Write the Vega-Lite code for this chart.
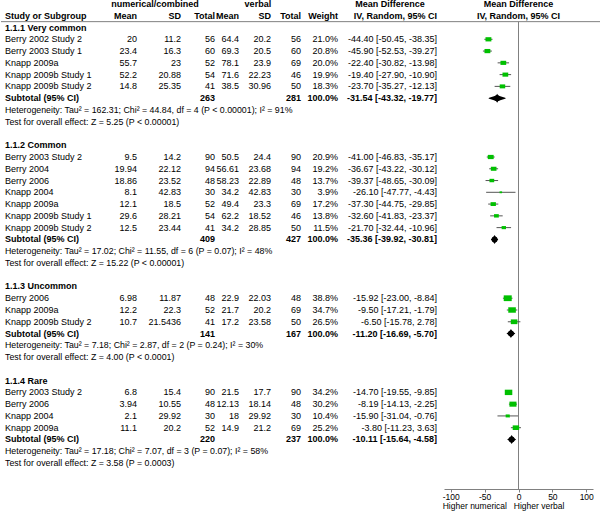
{
  "$schema": "https://vega.github.io/schema/vega-lite/v6.json",
  "padding": 0,
  "spacing": 0,
  "bounds": "flush",
  "background": "white",
  "resolve": {"scale": {"size": "independent"}},
  "datasets": {
    "header": [
      {"row": 0, "col": "num", "text": "numerical/combined"},
      {"row": 0, "col": "verb", "text": "verbal"},
      {"row": 0, "col": "md1", "text": "Mean Difference"},
      {"row": 0, "col": "md2", "text": "Mean Difference"},
      {"row": 1, "col": "label", "text": "Study or Subgroup"},
      {"row": 1, "col": "m1", "text": "Mean"},
      {"row": 1, "col": "sd1", "text": "SD"},
      {"row": 1, "col": "n1", "text": "Total"},
      {"row": 1, "col": "m2", "text": "Mean"},
      {"row": 1, "col": "sd2", "text": "SD"},
      {"row": 1, "col": "n2", "text": "Total"},
      {"row": 1, "col": "weight", "text": "Weight"},
      {"row": 1, "col": "ci", "text": "IV, Random, 95% CI"},
      {"row": 1, "col": "ci2", "text": "IV, Random, 95% CI"}
    ],
    "rows": [
      {"row": 2, "kind": "group", "label": "1.1.1 Very common"},
      {"row": 3, "kind": "study", "label": "Berry 2002 Study 2", "m1": 20, "sd1": 11.2, "n1": 56, "m2": 64.4, "sd2": 20.2, "n2": 56, "weight": 0.21, "ci": "-44.40 [-50.45, -38.35]", "md": -44.4, "lo": -50.45, "hi": -38.35},
      {"row": 4, "kind": "study", "label": "Berry 2003 Study 1", "m1": 23.4, "sd1": 16.3, "n1": 60, "m2": 69.3, "sd2": 20.5, "n2": 60, "weight": 0.208, "ci": "-45.90 [-52.53, -39.27]", "md": -45.9, "lo": -52.53, "hi": -39.27},
      {"row": 5, "kind": "study", "label": "Knapp 2009a", "m1": 55.7, "sd1": 23, "n1": 52, "m2": 78.1, "sd2": 23.9, "n2": 69, "weight": 0.2, "ci": "-22.40 [-30.82, -13.98]", "md": -22.4, "lo": -30.82, "hi": -13.98},
      {"row": 6, "kind": "study", "label": "Knapp 2009b Study 1", "m1": 52.2, "sd1": 20.88, "n1": 54, "m2": 71.6, "sd2": 22.23, "n2": 46, "weight": 0.199, "ci": "-19.40 [-27.90, -10.90]", "md": -19.4, "lo": -27.9, "hi": -10.9},
      {"row": 7, "kind": "study", "label": "Knapp 2009b Study 2", "m1": 14.8, "sd1": 25.35, "n1": 41, "m2": 38.5, "sd2": 30.96, "n2": 50, "weight": 0.183, "ci": "-23.70 [-35.27, -12.13]", "md": -23.7, "lo": -35.27, "hi": -12.13},
      {"row": 8, "kind": "subtotal", "label": "Subtotal (95% CI)", "n1": 263, "n2": 281, "weight": 1, "ci": "-31.54 [-43.32, -19.77]", "md": -31.54, "lo": -43.32, "hi": -19.77},
      {"row": 9, "kind": "het", "label": "Heterogeneity: Tau² = 162.31; Chi² = 44.84, df = 4 (P < 0.00001); I² = 91%"},
      {"row": 10, "kind": "test", "label": "Test for overall effect: Z = 5.25 (P < 0.00001)"},
      {"row": 12, "kind": "group", "label": "1.1.2 Common"},
      {"row": 13, "kind": "study", "label": "Berry 2003 Study 2", "m1": 9.5, "sd1": 14.2, "n1": 90, "m2": 50.5, "sd2": 24.4, "n2": 90, "weight": 0.209, "ci": "-41.00 [-46.83, -35.17]", "md": -41, "lo": -46.83, "hi": -35.17},
      {"row": 14, "kind": "study", "label": "Berry 2004", "m1": 19.94, "sd1": 22.12, "n1": 94, "m2": 56.61, "sd2": 23.68, "n2": 94, "weight": 0.192, "ci": "-36.67 [-43.22, -30.12]", "md": -36.67, "lo": -43.22, "hi": -30.12},
      {"row": 15, "kind": "study", "label": "Berry 2006", "m1": 18.86, "sd1": 23.52, "n1": 48, "m2": 58.23, "sd2": 22.89, "n2": 48, "weight": 0.137, "ci": "-39.37 [-48.65, -30.09]", "md": -39.37, "lo": -48.65, "hi": -30.09},
      {"row": 16, "kind": "study", "label": "Knapp 2004", "m1": 8.1, "sd1": 42.83, "n1": 30, "m2": 34.2, "sd2": 42.83, "n2": 30, "weight": 0.039, "ci": "-26.10 [-47.77, -4.43]", "md": -26.1, "lo": -47.77, "hi": -4.43},
      {"row": 17, "kind": "study", "label": "Knapp 2009a", "m1": 12.1, "sd1": 18.5, "n1": 52, "m2": 49.4, "sd2": 23.3, "n2": 69, "weight": 0.172, "ci": "-37.30 [-44.75, -29.85]", "md": -37.3, "lo": -44.75, "hi": -29.85},
      {"row": 18, "kind": "study", "label": "Knapp 2009b Study 1", "m1": 29.6, "sd1": 28.21, "n1": 54, "m2": 62.2, "sd2": 18.52, "n2": 46, "weight": 0.138, "ci": "-32.60 [-41.83, -23.37]", "md": -32.6, "lo": -41.83, "hi": -23.37},
      {"row": 19, "kind": "study", "label": "Knapp 2009b Study 2", "m1": 12.5, "sd1": 23.44, "n1": 41, "m2": 34.2, "sd2": 28.85, "n2": 50, "weight": 0.115, "ci": "-21.70 [-32.44, -10.96]", "md": -21.7, "lo": -32.44, "hi": -10.96},
      {"row": 20, "kind": "subtotal", "label": "Subtotal (95% CI)", "n1": 409, "n2": 427, "weight": 1, "ci": "-35.36 [-39.92, -30.81]", "md": -35.36, "lo": -39.92, "hi": -30.81},
      {"row": 21, "kind": "het", "label": "Heterogeneity: Tau² = 17.02; Chi² = 11.55, df = 6 (P = 0.07); I² = 48%"},
      {"row": 22, "kind": "test", "label": "Test for overall effect: Z = 15.22 (P < 0.00001)"},
      {"row": 24, "kind": "group", "label": "1.1.3 Uncommon"},
      {"row": 25, "kind": "study", "label": "Berry 2006", "m1": 6.98, "sd1": 11.87, "n1": 48, "m2": 22.9, "sd2": 22.03, "n2": 48, "weight": 0.388, "ci": "-15.92 [-23.00, -8.84]", "md": -15.92, "lo": -23, "hi": -8.84},
      {"row": 26, "kind": "study", "label": "Knapp 2009a", "m1": 12.2, "sd1": 22.3, "n1": 52, "m2": 21.7, "sd2": 20.2, "n2": 69, "weight": 0.347, "ci": "-9.50 [-17.21, -1.79]", "md": -9.5, "lo": -17.21, "hi": -1.79},
      {"row": 27, "kind": "study", "label": "Knapp 2009b Study 2", "m1": 10.7, "sd1": 21.5436, "n1": 41, "m2": 17.2, "sd2": 23.58, "n2": 50, "weight": 0.265, "ci": "-6.50 [-15.78, 2.78]", "md": -6.5, "lo": -15.78, "hi": 2.78},
      {"row": 28, "kind": "subtotal", "label": "Subtotal (95% CI)", "n1": 141, "n2": 167, "weight": 1, "ci": "-11.20 [-16.69, -5.70]", "md": -11.2, "lo": -16.69, "hi": -5.7},
      {"row": 29, "kind": "het", "label": "Heterogeneity: Tau² = 7.18; Chi² = 2.87, df = 2 (P = 0.24); I² = 30%"},
      {"row": 30, "kind": "test", "label": "Test for overall effect: Z = 4.00 (P < 0.0001)"},
      {"row": 32, "kind": "group", "label": "1.1.4 Rare"},
      {"row": 33, "kind": "study", "label": "Berry 2003 Study 2", "m1": 6.8, "sd1": 15.4, "n1": 90, "m2": 21.5, "sd2": 17.7, "n2": 90, "weight": 0.342, "ci": "-14.70 [-19.55, -9.85]", "md": -14.7, "lo": -19.55, "hi": -9.85},
      {"row": 34, "kind": "study", "label": "Berry 2006", "m1": 3.94, "sd1": 10.55, "n1": 48, "m2": 12.13, "sd2": 18.14, "n2": 48, "weight": 0.302, "ci": "-8.19 [-14.13, -2.25]", "md": -8.19, "lo": -14.13, "hi": -2.25},
      {"row": 35, "kind": "study", "label": "Knapp 2004", "m1": 2.1, "sd1": 29.92, "n1": 30, "m2": 18, "sd2": 29.92, "n2": 30, "weight": 0.104, "ci": "-15.90 [-31.04, -0.76]", "md": -15.9, "lo": -31.04, "hi": -0.76},
      {"row": 36, "kind": "study", "label": "Knapp 2009a", "m1": 11.1, "sd1": 20.2, "n1": 52, "m2": 14.9, "sd2": 21.2, "n2": 69, "weight": 0.252, "ci": "-3.80 [-11.23, 3.63]", "md": -3.8, "lo": -11.23, "hi": 3.63},
      {"row": 37, "kind": "subtotal", "label": "Subtotal (95% CI)", "n1": 220, "n2": 237, "weight": 1, "ci": "-10.11 [-15.64, -4.58]", "md": -10.11, "lo": -15.64, "hi": -4.58},
      {"row": 38, "kind": "het", "label": "Heterogeneity: Tau² = 17.18; Chi² = 7.07, df = 3 (P = 0.07); I² = 58%"},
      {"row": 39, "kind": "test", "label": "Test for overall effect: Z = 3.58 (P = 0.0003)"}
    ]
  },
  "hconcat": [
    {
      "width": 100, "height": 489,
      "layer": [
        {"data": {"name": "rows"}, "transform": [{"filter": "datum.kind == 'study'"}],
         "mark": {"type": "text", "align": "left", "baseline": "middle", "dx": 4},
         "encoding": {"x": {"datum": 0, "type": "quantitative", "scale": {"domain": [0, 1]}, "axis": null},
                      "y": {"field": "row", "type": "quantitative", "scale": {"domain": [0, 39], "range": [4, 463]}, "axis": null},
                      "text": {"field": "label", "type": "nominal"}}},
        {"data": {"name": "rows"}, "transform": [{"filter": "datum.kind == 'het' || datum.kind == 'test'"}],
         "mark": {"type": "text", "align": "left", "baseline": "middle", "dx": 4, "fontSize": 8.8},
         "encoding": {"x": {"datum": 0, "type": "quantitative", "scale": {"domain": [0, 1]}, "axis": null},
                      "y": {"field": "row", "type": "quantitative", "scale": {"domain": [0, 39], "range": [4, 463]}, "axis": null},
                      "text": {"field": "label", "type": "nominal"}}},
        {"data": {"name": "rows"}, "transform": [{"filter": "datum.kind == 'group' || datum.kind == 'subtotal'"}],
         "mark": {"type": "text", "align": "left", "baseline": "middle", "dx": 4, "fontWeight": "bold"},
         "encoding": {"x": {"datum": 0, "type": "quantitative", "scale": {"domain": [0, 1]}, "axis": null},
                      "y": {"field": "row", "type": "quantitative", "scale": {"domain": [0, 39], "range": [4, 463]}, "axis": null},
                      "text": {"field": "label", "type": "nominal"}}},
        {"data": {"name": "header"}, "transform": [{"filter": "datum.col == 'label'"}],
         "mark": {"type": "text", "align": "left", "baseline": "middle", "dx": 4, "fontWeight": "bold"},
         "encoding": {"x": {"datum": 0, "type": "quantitative", "scale": {"domain": [0, 1]}, "axis": null},
                      "y": {"field": "row", "type": "quantitative", "scale": {"domain": [0, 39], "range": [4, 463]}, "axis": null},
                      "text": {"field": "text", "type": "nominal"}}},
        {"data": {"values": [{}]}, "mark": {"type": "rule", "color": "#808080"},
         "encoding": {"x": {"datum": 0, "type": "quantitative", "scale": {"domain": [0, 1]}, "axis": null}, "x2": {"datum": 1},
                      "y": {"datum": 1.5, "type": "quantitative", "scale": {"domain": [0, 39], "range": [4, 463]}, "axis": null}}}
      ]
    },
    {
      "width": 36, "height": 489,
      "layer": [
        {"data": {"name": "rows"}, "transform": [{"filter": "datum.kind == 'study'"}],
         "mark": {"type": "text", "align": "right", "baseline": "middle"},
         "encoding": {"x": {"datum": 1, "type": "quantitative", "scale": {"domain": [0, 1]}, "axis": null},
                      "y": {"field": "row", "type": "quantitative", "scale": {"domain": [0, 39], "range": [4, 463]}, "axis": null},
                      "text": {"field": "m1", "type": "nominal"}}},
        {"data": {"name": "header"}, "transform": [{"filter": "datum.col == 'm1'"}],
         "mark": {"type": "text", "align": "right", "baseline": "middle", "fontWeight": "bold"},
         "encoding": {"x": {"datum": 1, "type": "quantitative", "scale": {"domain": [0, 1]}, "axis": null},
                      "y": {"field": "row", "type": "quantitative", "scale": {"domain": [0, 39], "range": [4, 463]}, "axis": null},
                      "text": {"field": "text", "type": "nominal"}}},
        {"data": {"values": [{}]}, "mark": {"type": "rule", "color": "#808080"},
         "encoding": {"x": {"datum": 0, "type": "quantitative", "scale": {"domain": [0, 1]}, "axis": null}, "x2": {"datum": 1},
                      "y": {"datum": 1.5, "type": "quantitative", "scale": {"domain": [0, 39], "range": [4, 463]}, "axis": null}}}
      ]
    },
    {
      "width": 44, "height": 489,
      "layer": [
        {"data": {"name": "rows"}, "transform": [{"filter": "datum.kind == 'study'"}],
         "mark": {"type": "text", "align": "right", "baseline": "middle"},
         "encoding": {"x": {"datum": 1, "type": "quantitative", "scale": {"domain": [0, 1]}, "axis": null},
                      "y": {"field": "row", "type": "quantitative", "scale": {"domain": [0, 39], "range": [4, 463]}, "axis": null},
                      "text": {"field": "sd1", "type": "nominal"}}},
        {"data": {"name": "header"}, "transform": [{"filter": "datum.col == 'sd1'"}],
         "mark": {"type": "text", "align": "right", "baseline": "middle", "fontWeight": "bold"},
         "encoding": {"x": {"datum": 1, "type": "quantitative", "scale": {"domain": [0, 1]}, "axis": null},
                      "y": {"field": "row", "type": "quantitative", "scale": {"domain": [0, 39], "range": [4, 463]}, "axis": null},
                      "text": {"field": "text", "type": "nominal"}}},
        {"data": {"name": "header"}, "transform": [{"filter": "datum.col == 'num'"}],
         "mark": {"type": "text", "align": "center", "baseline": "middle", "fontWeight": "bold"},
         "encoding": {"x": {"datum": 0.41, "type": "quantitative", "scale": {"domain": [0, 1]}, "axis": null},
                      "y": {"field": "row", "type": "quantitative", "scale": {"domain": [0, 39], "range": [4, 463]}, "axis": null},
                      "text": {"field": "text", "type": "nominal"}}},
        {"data": {"values": [{}]}, "mark": {"type": "rule", "color": "#808080"},
         "encoding": {"x": {"datum": 0, "type": "quantitative", "scale": {"domain": [0, 1]}, "axis": null}, "x2": {"datum": 1},
                      "y": {"datum": 1.5, "type": "quantitative", "scale": {"domain": [0, 39], "range": [4, 463]}, "axis": null}}}
      ]
    },
    {
      "width": 34, "height": 489,
      "layer": [
        {"data": {"name": "rows"}, "transform": [{"filter": "datum.kind == 'study'"}],
         "mark": {"type": "text", "align": "right", "baseline": "middle"},
         "encoding": {"x": {"datum": 1, "type": "quantitative", "scale": {"domain": [0, 1]}, "axis": null},
                      "y": {"field": "row", "type": "quantitative", "scale": {"domain": [0, 39], "range": [4, 463]}, "axis": null},
                      "text": {"field": "n1", "type": "nominal"}}},
        {"data": {"name": "rows"}, "transform": [{"filter": "datum.kind == 'subtotal'"}],
         "mark": {"type": "text", "align": "right", "baseline": "middle", "fontWeight": "bold"},
         "encoding": {"x": {"datum": 1, "type": "quantitative", "scale": {"domain": [0, 1]}, "axis": null},
                      "y": {"field": "row", "type": "quantitative", "scale": {"domain": [0, 39], "range": [4, 463]}, "axis": null},
                      "text": {"field": "n1", "type": "nominal"}}},
        {"data": {"name": "header"}, "transform": [{"filter": "datum.col == 'n1'"}],
         "mark": {"type": "text", "align": "right", "baseline": "middle", "fontWeight": "bold"},
         "encoding": {"x": {"datum": 1, "type": "quantitative", "scale": {"domain": [0, 1]}, "axis": null},
                      "y": {"field": "row", "type": "quantitative", "scale": {"domain": [0, 39], "range": [4, 463]}, "axis": null},
                      "text": {"field": "text", "type": "nominal"}}},
        {"data": {"values": [{}]}, "mark": {"type": "rule", "color": "#808080"},
         "encoding": {"x": {"datum": 0, "type": "quantitative", "scale": {"domain": [0, 1]}, "axis": null}, "x2": {"datum": 1},
                      "y": {"datum": 1.5, "type": "quantitative", "scale": {"domain": [0, 39], "range": [4, 463]}, "axis": null}}}
      ]
    },
    {
      "width": 24, "height": 489,
      "layer": [
        {"data": {"name": "rows"}, "transform": [{"filter": "datum.kind == 'study'"}],
         "mark": {"type": "text", "align": "right", "baseline": "middle"},
         "encoding": {"x": {"datum": 1, "type": "quantitative", "scale": {"domain": [0, 1]}, "axis": null},
                      "y": {"field": "row", "type": "quantitative", "scale": {"domain": [0, 39], "range": [4, 463]}, "axis": null},
                      "text": {"field": "m2", "type": "nominal"}}},
        {"data": {"name": "header"}, "transform": [{"filter": "datum.col == 'm2'"}],
         "mark": {"type": "text", "align": "right", "baseline": "middle", "fontWeight": "bold"},
         "encoding": {"x": {"datum": 1, "type": "quantitative", "scale": {"domain": [0, 1]}, "axis": null},
                      "y": {"field": "row", "type": "quantitative", "scale": {"domain": [0, 39], "range": [4, 463]}, "axis": null},
                      "text": {"field": "text", "type": "nominal"}}},
        {"data": {"values": [{}]}, "mark": {"type": "rule", "color": "#808080"},
         "encoding": {"x": {"datum": 0, "type": "quantitative", "scale": {"domain": [0, 1]}, "axis": null}, "x2": {"datum": 1},
                      "y": {"datum": 1.5, "type": "quantitative", "scale": {"domain": [0, 39], "range": [4, 463]}, "axis": null}}}
      ]
    },
    {
      "width": 32, "height": 489,
      "layer": [
        {"data": {"name": "rows"}, "transform": [{"filter": "datum.kind == 'study'"}],
         "mark": {"type": "text", "align": "right", "baseline": "middle"},
         "encoding": {"x": {"datum": 1, "type": "quantitative", "scale": {"domain": [0, 1]}, "axis": null},
                      "y": {"field": "row", "type": "quantitative", "scale": {"domain": [0, 39], "range": [4, 463]}, "axis": null},
                      "text": {"field": "sd2", "type": "nominal"}}},
        {"data": {"name": "header"}, "transform": [{"filter": "datum.col == 'sd2'"}],
         "mark": {"type": "text", "align": "right", "baseline": "middle", "fontWeight": "bold"},
         "encoding": {"x": {"datum": 1, "type": "quantitative", "scale": {"domain": [0, 1]}, "axis": null},
                      "y": {"field": "row", "type": "quantitative", "scale": {"domain": [0, 39], "range": [4, 463]}, "axis": null},
                      "text": {"field": "text", "type": "nominal"}}},
        {"data": {"name": "header"}, "transform": [{"filter": "datum.col == 'verb'"}],
         "mark": {"type": "text", "align": "center", "baseline": "middle", "fontWeight": "bold"},
         "encoding": {"x": {"datum": 0.59, "type": "quantitative", "scale": {"domain": [0, 1]}, "axis": null},
                      "y": {"field": "row", "type": "quantitative", "scale": {"domain": [0, 39], "range": [4, 463]}, "axis": null},
                      "text": {"field": "text", "type": "nominal"}}},
        {"data": {"values": [{}]}, "mark": {"type": "rule", "color": "#808080"},
         "encoding": {"x": {"datum": 0, "type": "quantitative", "scale": {"domain": [0, 1]}, "axis": null}, "x2": {"datum": 1},
                      "y": {"datum": 1.5, "type": "quantitative", "scale": {"domain": [0, 39], "range": [4, 463]}, "axis": null}}}
      ]
    },
    {
      "width": 30, "height": 489,
      "layer": [
        {"data": {"name": "rows"}, "transform": [{"filter": "datum.kind == 'study'"}],
         "mark": {"type": "text", "align": "right", "baseline": "middle"},
         "encoding": {"x": {"datum": 1, "type": "quantitative", "scale": {"domain": [0, 1]}, "axis": null},
                      "y": {"field": "row", "type": "quantitative", "scale": {"domain": [0, 39], "range": [4, 463]}, "axis": null},
                      "text": {"field": "n2", "type": "nominal"}}},
        {"data": {"name": "rows"}, "transform": [{"filter": "datum.kind == 'subtotal'"}],
         "mark": {"type": "text", "align": "right", "baseline": "middle", "fontWeight": "bold"},
         "encoding": {"x": {"datum": 1, "type": "quantitative", "scale": {"domain": [0, 1]}, "axis": null},
                      "y": {"field": "row", "type": "quantitative", "scale": {"domain": [0, 39], "range": [4, 463]}, "axis": null},
                      "text": {"field": "n2", "type": "nominal"}}},
        {"data": {"name": "header"}, "transform": [{"filter": "datum.col == 'n2'"}],
         "mark": {"type": "text", "align": "right", "baseline": "middle", "fontWeight": "bold"},
         "encoding": {"x": {"datum": 1, "type": "quantitative", "scale": {"domain": [0, 1]}, "axis": null},
                      "y": {"field": "row", "type": "quantitative", "scale": {"domain": [0, 39], "range": [4, 463]}, "axis": null},
                      "text": {"field": "text", "type": "nominal"}}},
        {"data": {"values": [{}]}, "mark": {"type": "rule", "color": "#808080"},
         "encoding": {"x": {"datum": 0, "type": "quantitative", "scale": {"domain": [0, 1]}, "axis": null}, "x2": {"datum": 1},
                      "y": {"datum": 1.5, "type": "quantitative", "scale": {"domain": [0, 39], "range": [4, 463]}, "axis": null}}}
      ]
    },
    {
      "width": 37, "height": 489,
      "layer": [
        {"data": {"name": "rows"}, "transform": [{"filter": "datum.kind == 'study'"}],
         "mark": {"type": "text", "align": "right", "baseline": "middle"},
         "encoding": {"x": {"datum": 1, "type": "quantitative", "scale": {"domain": [0, 1]}, "axis": null},
                      "y": {"field": "row", "type": "quantitative", "scale": {"domain": [0, 39], "range": [4, 463]}, "axis": null},
                      "text": {"field": "weight", "type": "quantitative", "format": ".1%"}}},
        {"data": {"name": "rows"}, "transform": [{"filter": "datum.kind == 'subtotal'"}],
         "mark": {"type": "text", "align": "right", "baseline": "middle", "fontWeight": "bold"},
         "encoding": {"x": {"datum": 1, "type": "quantitative", "scale": {"domain": [0, 1]}, "axis": null},
                      "y": {"field": "row", "type": "quantitative", "scale": {"domain": [0, 39], "range": [4, 463]}, "axis": null},
                      "text": {"field": "weight", "type": "quantitative", "format": ".1%"}}},
        {"data": {"name": "header"}, "transform": [{"filter": "datum.col == 'weight'"}],
         "mark": {"type": "text", "align": "right", "baseline": "middle", "fontWeight": "bold"},
         "encoding": {"x": {"datum": 1, "type": "quantitative", "scale": {"domain": [0, 1]}, "axis": null},
                      "y": {"field": "row", "type": "quantitative", "scale": {"domain": [0, 39], "range": [4, 463]}, "axis": null},
                      "text": {"field": "text", "type": "nominal"}}},
        {"data": {"values": [{}]}, "mark": {"type": "rule", "color": "#808080"},
         "encoding": {"x": {"datum": 0, "type": "quantitative", "scale": {"domain": [0, 1]}, "axis": null}, "x2": {"datum": 1},
                      "y": {"datum": 1.5, "type": "quantitative", "scale": {"domain": [0, 39], "range": [4, 463]}, "axis": null}}}
      ]
    },
    {
      "width": 99, "height": 489,
      "layer": [
        {"data": {"name": "rows"}, "transform": [{"filter": "datum.kind == 'study'"}],
         "mark": {"type": "text", "align": "right", "baseline": "middle"},
         "encoding": {"x": {"datum": 1, "type": "quantitative", "scale": {"domain": [0, 1]}, "axis": null},
                      "y": {"field": "row", "type": "quantitative", "scale": {"domain": [0, 39], "range": [4, 463]}, "axis": null},
                      "text": {"field": "ci", "type": "nominal"}}},
        {"data": {"name": "rows"}, "transform": [{"filter": "datum.kind == 'subtotal'"}],
         "mark": {"type": "text", "align": "right", "baseline": "middle", "fontWeight": "bold"},
         "encoding": {"x": {"datum": 1, "type": "quantitative", "scale": {"domain": [0, 1]}, "axis": null},
                      "y": {"field": "row", "type": "quantitative", "scale": {"domain": [0, 39], "range": [4, 463]}, "axis": null},
                      "text": {"field": "ci", "type": "nominal"}}},
        {"data": {"name": "header"}, "transform": [{"filter": "datum.col == 'ci'"}],
         "mark": {"type": "text", "align": "right", "baseline": "middle", "fontWeight": "bold"},
         "encoding": {"x": {"datum": 1, "type": "quantitative", "scale": {"domain": [0, 1]}, "axis": null},
                      "y": {"field": "row", "type": "quantitative", "scale": {"domain": [0, 39], "range": [4, 463]}, "axis": null},
                      "text": {"field": "text", "type": "nominal"}}},
        {"data": {"name": "header"}, "transform": [{"filter": "datum.col == 'md1'"}],
         "mark": {"type": "text", "align": "center", "baseline": "middle", "fontWeight": "bold"},
         "encoding": {"x": {"datum": 0.525, "type": "quantitative", "scale": {"domain": [0, 1]}, "axis": null},
                      "y": {"field": "row", "type": "quantitative", "scale": {"domain": [0, 39], "range": [4, 463]}, "axis": null},
                      "text": {"field": "text", "type": "nominal"}}},
        {"data": {"values": [{}]}, "mark": {"type": "rule", "color": "#808080"},
         "encoding": {"x": {"datum": 0, "type": "quantitative", "scale": {"domain": [0, 1]}, "axis": null}, "x2": {"datum": 1},
                      "y": {"datum": 1.5, "type": "quantitative", "scale": {"domain": [0, 39], "range": [4, 463]}, "axis": null}}}
      ]
    },
    {
      "width": 164, "height": 489,
      "resolve": {"scale": {"size": "independent"}},
      "layer": [
        {"data": {"values": [{}]}, "mark": {"type": "rule", "color": "#808080"},
         "encoding": {"x": {"datum": -120.3, "type": "quantitative", "scale": {"domain": [-110, 110], "range": [7, 156]},
                            "axis": {"values": [-100, -50, 0, 50, 100], "title": null, "grid": false, "domainColor": "#808080", "tickColor": "#808080", "tickSize": 3, "labelPadding": 0, "labelExpr": "'' + datum.value", "labelFlush": false, "labelOverlap": false}},
                      "x2": {"datum": 121.8},
                      "y": {"datum": 1.5, "type": "quantitative", "scale": {"domain": [0, 39], "range": [4, 463]}, "axis": null}}},
        {"data": {"values": [{}]}, "mark": {"type": "rule", "color": "#808080"},
         "encoding": {"x": {"datum": 0, "type": "quantitative", "scale": {"domain": [-110, 110], "range": [7, 156]},
                            "axis": {"values": [-100, -50, 0, 50, 100], "title": null, "grid": false, "domainColor": "#808080", "tickColor": "#808080", "tickSize": 3, "labelPadding": 0, "labelExpr": "'' + datum.value", "labelFlush": false, "labelOverlap": false}},
                      "y": {"datum": 1.5, "type": "quantitative", "scale": {"domain": [0, 39], "range": [4, 463]}, "axis": null},
                      "y2": {"datum": 41.21}}},
        {"data": {"name": "rows"}, "transform": [{"filter": "datum.kind == 'study'"}],
         "mark": {"type": "rule", "color": "#555555", "strokeWidth": 1},
         "encoding": {"x": {"field": "lo", "type": "quantitative", "scale": {"domain": [-110, 110], "range": [7, 156]},
                            "axis": {"values": [-100, -50, 0, 50, 100], "title": null, "grid": false, "domainColor": "#808080", "tickColor": "#808080", "tickSize": 3, "labelPadding": 0, "labelExpr": "'' + datum.value", "labelFlush": false, "labelOverlap": false}},
                      "x2": {"field": "hi"},
                      "y": {"field": "row", "type": "quantitative", "scale": {"domain": [0, 39], "range": [4, 463]}, "axis": null}}},
        {"data": {"name": "rows"}, "transform": [{"filter": "datum.kind == 'study'"}],
         "mark": {"type": "point", "filled": true, "opacity": 1, "shape": "M-1,-0.72L1,-0.72L1,0.72L-1,0.72Z", "color": "#00c000"},
         "encoding": {"x": {"field": "md", "type": "quantitative", "scale": {"domain": [-110, 110], "range": [7, 156]},
                            "axis": {"values": [-100, -50, 0, 50, 100], "title": null, "grid": false, "domainColor": "#808080", "tickColor": "#808080", "tickSize": 3, "labelPadding": 0, "labelExpr": "'' + datum.value", "labelFlush": false, "labelOverlap": false}},
                      "y": {"field": "row", "type": "quantitative", "scale": {"domain": [0, 39], "range": [4, 463]}, "axis": null},
                      "size": {"field": "weight", "type": "quantitative", "scale": {"domain": [0, 0.4], "range": [0, 66]}, "legend": null}}},
        {"data": {"name": "rows"}, "transform": [{"filter": "datum.kind == 'subtotal'"}, {"fold": ["lo", "md"], "as": ["k", "v"]}],
         "mark": {"type": "trail", "color": "black"},
         "encoding": {"x": {"field": "v", "type": "quantitative", "scale": {"domain": [-110, 110], "range": [7, 156]},
                            "axis": {"values": [-100, -50, 0, 50, 100], "title": null, "grid": false, "domainColor": "#808080", "tickColor": "#808080", "tickSize": 3, "labelPadding": 0, "labelExpr": "'' + datum.value", "labelFlush": false, "labelOverlap": false}},
                      "y": {"field": "row", "type": "quantitative", "scale": {"domain": [0, 39], "range": [4, 463]}, "axis": null},
                      "detail": {"field": "row", "type": "nominal"},
                      "size": {"field": "k", "type": "ordinal", "scale": {"type": "point", "domain": ["lo", "md"], "range": [0, 6], "padding": 0}, "legend": null}}},
        {"data": {"name": "rows"}, "transform": [{"filter": "datum.kind == 'subtotal'"}, {"fold": ["md", "hi"], "as": ["k", "v"]}],
         "mark": {"type": "trail", "color": "black"},
         "encoding": {"x": {"field": "v", "type": "quantitative", "scale": {"domain": [-110, 110], "range": [7, 156]},
                            "axis": {"values": [-100, -50, 0, 50, 100], "title": null, "grid": false, "domainColor": "#808080", "tickColor": "#808080", "tickSize": 3, "labelPadding": 0, "labelExpr": "'' + datum.value", "labelFlush": false, "labelOverlap": false}},
                      "y": {"field": "row", "type": "quantitative", "scale": {"domain": [0, 39], "range": [4, 463]}, "axis": null},
                      "detail": {"field": "row", "type": "nominal"},
                      "size": {"field": "k", "type": "ordinal", "scale": {"type": "point", "domain": ["hi", "md"], "range": [0, 6], "padding": 0}, "legend": null}}},
        {"data": {"name": "rows"}, "transform": [{"filter": "datum.kind == 'subtotal'"}],
         "mark": {"type": "point", "filled": true, "opacity": 1, "shape": "M-0.62,0L0,-1L0.62,0L0,1Z", "size": 81, "color": "black"},
         "encoding": {"x": {"field": "md", "type": "quantitative", "scale": {"domain": [-110, 110], "range": [7, 156]},
                            "axis": {"values": [-100, -50, 0, 50, 100], "title": null, "grid": false, "domainColor": "#808080", "tickColor": "#808080", "tickSize": 3, "labelPadding": 0, "labelExpr": "'' + datum.value", "labelFlush": false, "labelOverlap": false}},
                      "y": {"field": "row", "type": "quantitative", "scale": {"domain": [0, 39], "range": [4, 463]}, "axis": null}}},
        {"data": {"name": "header"}, "transform": [{"filter": "datum.col == 'md2' || datum.col == 'ci2'"}],
         "mark": {"type": "text", "align": "center", "baseline": "middle", "fontWeight": "bold"},
         "encoding": {"x": {"datum": 0, "type": "quantitative", "scale": {"domain": [-110, 110], "range": [7, 156]},
                            "axis": {"values": [-100, -50, 0, 50, 100], "title": null, "grid": false, "domainColor": "#808080", "tickColor": "#808080", "tickSize": 3, "labelPadding": 0, "labelExpr": "'' + datum.value", "labelFlush": false, "labelOverlap": false}},
                      "y": {"field": "row", "type": "quantitative", "scale": {"domain": [0, 39], "range": [4, 463]}, "axis": null},
                      "text": {"field": "text", "type": "nominal"}}},
        {"data": {"values": [{}]},
         "mark": {"type": "text", "align": "right", "baseline": "middle", "fontSize": 8.5},
         "encoding": {"x": {"datum": -17, "type": "quantitative", "scale": {"domain": [-110, 110], "range": [7, 156]},
                            "axis": {"values": [-100, -50, 0, 50, 100], "title": null, "grid": false, "domainColor": "#808080", "tickColor": "#808080", "tickSize": 3, "labelPadding": 0, "labelExpr": "'' + datum.value", "labelFlush": false, "labelOverlap": false}},
                      "y": {"datum": 42.65, "type": "quantitative", "scale": {"domain": [0, 39], "range": [4, 463]}, "axis": null},
                      "text": {"value": "Higher numerical"}}},
        {"data": {"values": [{}]},
         "mark": {"type": "text", "align": "left", "baseline": "middle", "fontSize": 8.5},
         "encoding": {"x": {"datum": -7, "type": "quantitative", "scale": {"domain": [-110, 110], "range": [7, 156]},
                            "axis": {"values": [-100, -50, 0, 50, 100], "title": null, "grid": false, "domainColor": "#808080", "tickColor": "#808080", "tickSize": 3, "labelPadding": 0, "labelExpr": "'' + datum.value", "labelFlush": false, "labelOverlap": false}},
                      "y": {"datum": 42.65, "type": "quantitative", "scale": {"domain": [0, 39], "range": [4, 463]}, "axis": null},
                      "text": {"value": "Higher verbal"}}}
      ]
    }
  ],
  "config": {
    "view": {"stroke": null},
    "text": {"font": "Liberation Sans", "fontSize": 9, "color": "black"},
    "axis": {"labelFont": "Liberation Sans", "labelFontSize": 8.5, "labelColor": "black"}
  }
}
